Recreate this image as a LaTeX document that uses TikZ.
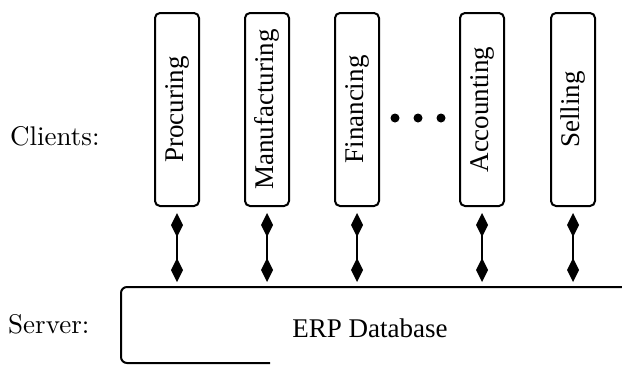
\documentclass[tikz,border=0pt]{standalone}
\usepackage{fontspec}
\newfontfamily\tms{Liberation Serif}
\newfontfamily\cmten{lmroman10-regular}[Extension=.otf]
\usetikzlibrary{arrows.meta}
\begin{document}
\begin{tikzpicture}[x=1pt,y=-1pt,
  client/.style={draw,line width=2pt,rounded corners=5pt,rotate=90,
    minimum width=193pt,minimum height=44pt,inner sep=0pt,
    font=\tms\fontsize{27}{32}\selectfont},
  tip/.tip={Kite[length=24pt,width=12pt,inset=12pt]},
  link/.style={line width=2pt,tip-tip,shorten <=6pt,shorten >=5pt},
  dotnode/.style={circle,fill,inner sep=0pt,minimum size=9pt},
  lmlabel/.style={anchor=base west,inner sep=0pt,font=\cmten\fontsize{27}{32}\selectfont},
  outline/.style={line width=2pt,rounded corners=6pt}]
\useasboundingbox (0,0) rectangle (622,367);

\node[lmlabel] (clients) at (10,145) {Clients:};
\node[lmlabel] (server) at (8,333) {Server:};

\node[client] (proc) at (177,109.5) {Procuring};
\node[client] (manu) at (267,109.5) {Manufacturing};
\node[client] (fina) at (357,109.5) {Financing};
\node[client] (acco) at (482,109.5) {Accounting};
\node[client] (sell) at (573,109.5) {Selling};

\node[dotnode] (d1) at (395,118) {};
\node[dotnode] (d2) at (418,118) {};
\node[dotnode] (d3) at (441,118) {};

\coordinate (srvNE) at (622,287);
\coordinate (srvNW) at (121,287);
\coordinate (srvSW) at (121,363);
\coordinate (srvSE) at (270,363);
\draw[outline] (srvNE) -- (srvNW) -- (srvSW) -- (srvSE);
\node[anchor=base,inner sep=0pt,font=\tms\fontsize{27}{32}\selectfont] (erp) at (370,337) {ERP Database};

\foreach \c in {proc,manu,fina,acco,sell}
  \draw[link] (\c.west) -- (\c.west |- srvNE);
\end{tikzpicture}
\end{document}
